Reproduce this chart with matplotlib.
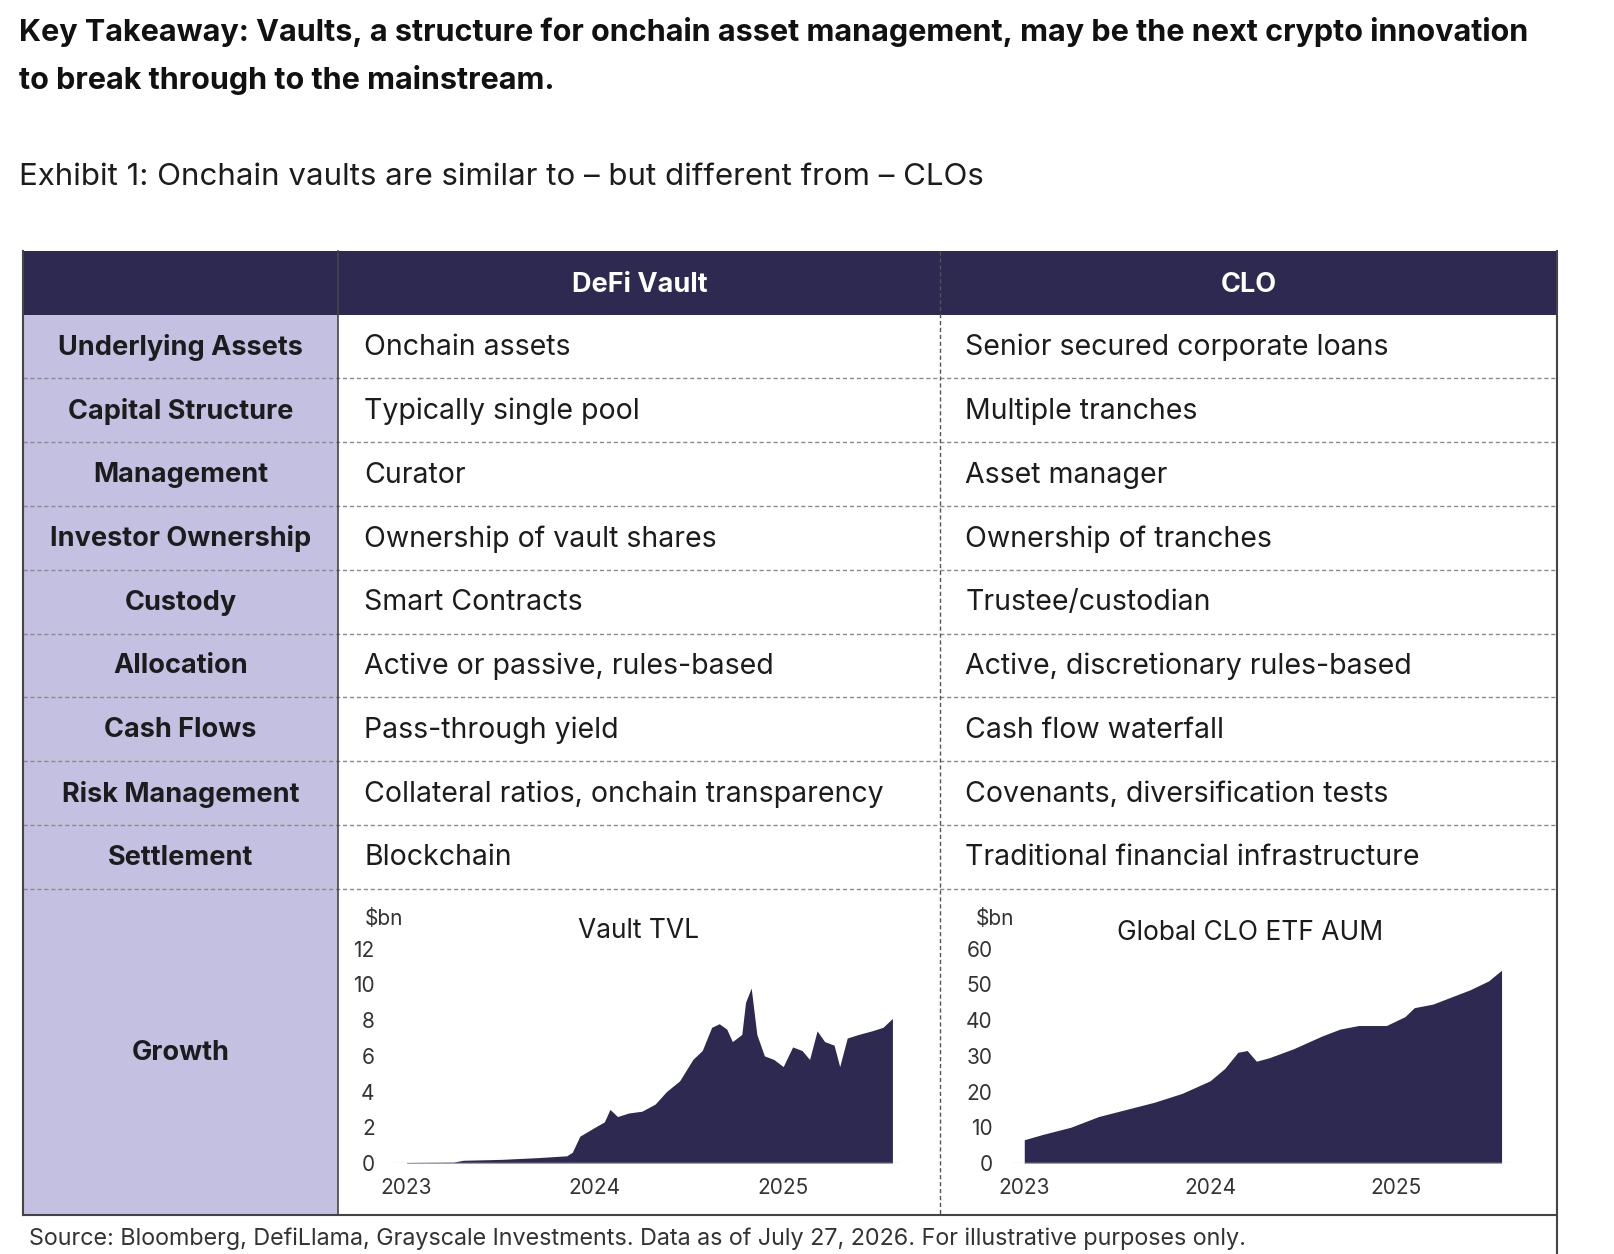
import matplotlib
matplotlib.use("Agg")
import matplotlib.pyplot as plt
from matplotlib.patches import Rectangle
from matplotlib.lines import Line2D

plt.rcParams['font.family'] = ['Inter', 'DejaVu Sans']

title_lines = ["Key Takeaway: Vaults, a structure for onchain asset management, may be the next crypto innovation",
               "to break through to the mainstream."]
exhibit = "Exhibit 1: Onchain vaults are similar to \u2013 but different from \u2013 CLOs"
headers = ["DeFi Vault", "CLO"]
row_labels = ["Underlying Assets", "Capital Structure", "Management", "Investor Ownership", "Custody",
              "Allocation", "Cash Flows", "Risk Management", "Settlement"]
defi_col = ["Onchain assets", "Typically single pool", "Curator", "Ownership of vault shares",
            "Smart Contracts", "Active or passive, rules-based", "Pass-through yield",
            "Collateral ratios, onchain transparency", "Blockchain"]
clo_col = ["Senior secured corporate loans", "Multiple tranches", "Asset manager", "Ownership of tranches",
           "Trustee/custodian", "Active, discretionary rules-based", "Cash flow waterfall",
           "Covenants, diversification tests", "Traditional financial infrastructure"]
source = "Source: Bloomberg, DefiLlama, Grayscale Investments. Data as of July 27, 2026. For illustrative purposes only."

vault_t = [2023.0, 2023.25, 2023.3, 2023.5, 2023.7, 2023.85, 2023.88, 2023.92, 2024.0, 2024.05, 2024.08,
           2024.12, 2024.18, 2024.25, 2024.32, 2024.38, 2024.45, 2024.52, 2024.57, 2024.62, 2024.66, 2024.7,
           2024.73, 2024.78, 2024.8, 2024.83, 2024.86, 2024.9, 2024.95, 2025.0, 2025.05, 2025.1, 2025.14,
           2025.18, 2025.22, 2025.27, 2025.3, 2025.34, 2025.4, 2025.47, 2025.53, 2025.58]
vault_v = [0.03, 0.05, 0.15, 0.2, 0.3, 0.4, 0.6, 1.5, 2.0, 2.3, 3.0, 2.6, 2.8, 2.9, 3.3, 4.0, 4.6, 5.8, 6.3,
           7.6, 7.8, 7.5, 6.8, 7.2, 9.0, 9.8, 7.2, 6.0, 5.8, 5.4, 6.5, 6.3, 5.8, 7.4, 6.8, 6.6, 5.4, 7.0,
           7.2, 7.4, 7.6, 8.1]
clo_t = [2023.0, 2023.1, 2023.25, 2023.4, 2023.55, 2023.7, 2023.85, 2024.0, 2024.08, 2024.15, 2024.2,
         2024.25, 2024.32, 2024.45, 2024.6, 2024.7, 2024.8, 2024.95, 2025.05, 2025.1, 2025.2, 2025.3,
         2025.4, 2025.5, 2025.57]
clo_v = [6.5, 8.0, 10.0, 13.0, 15.0, 17.0, 19.5, 23.0, 26.5, 31.0, 31.5, 28.5, 29.5, 32.0, 35.5, 37.5, 38.5,
         38.5, 41.0, 43.5, 44.5, 46.5, 48.5, 51.0, 54.0]

W, H = 1560.0, 1212.0
fig = plt.figure(figsize=(16.14, 12.54), dpi=100)
def fx(x): return x / W
def fy(y): return 1 - y / H
def txt(x, y, s, **kw):
    fig.text(fx(x), fy(y), s, **kw)

NAVY = "#2d2950"
LAV = "#c4c0e2"
TXT = "#1c1c1c"

for i, line in enumerate(title_lines):
    txt(18, 31 + 46 * i, line, fontsize=22, fontweight='bold', va='center', color='#111111')
txt(18, 171, exhibit, fontsize=22.5, va='center', color=TXT)

L, C1, C2, R = 22, 327, 909, 1505
top, hb = 243, 304
rh = (859 - 304) / 9
gb = 1174

def rect(x0, y0, x1, y1, color):
    fig.add_artist(Rectangle((fx(x0), fy(y1)), fx(x1) - fx(x0), fy(y0) - fy(y1),
                             facecolor=color, edgecolor='none', transform=fig.transFigure))
def line(x0, y0, x1, y1, **kw):
    fig.add_artist(Line2D([fx(x0), fx(x1)], [fy(y0), fy(y1)], transform=fig.transFigure, **kw))

rect(L, top, R, hb, NAVY)
rect(L, hb, C1, gb, LAV)
txt((C1 + C2) / 2, 275, headers[0], fontsize=19.5, fontweight='bold', color='white', ha='center', va='center')
txt((C2 + R) / 2, 275, headers[1], fontsize=19.5, fontweight='bold', color='white', ha='center', va='center')

for i in range(9):
    yc = hb + rh * (i + 0.5) + 1
    txt((L + C1) / 2, yc, row_labels[i], fontsize=19.5, fontweight='bold', color=TXT, ha='center', va='center')
    txt(352, yc, defi_col[i], fontsize=20.5, color=TXT, va='center')
    txt(933, yc, clo_col[i], fontsize=20.5, color=TXT, va='center')
    yb = hb + rh * (i + 1)
    line(L, yb, R, yb, color='#8a8a8a', lw=1.0, ls=(0, (3, 2)))
txt((L + C1) / 2, 1018, "Growth", fontsize=19.5, fontweight='bold', color=TXT, ha='center', va='center')

line(C2, top, C2, gb, color='#555555', lw=1.0, ls=(0, (3, 2)))
line(C1, top, C1, gb, color='#444444', lw=1.2)
line(L, top, L, gb, color='#444444', lw=1.5)
line(R, top, R, 1215, color='#444444', lw=1.5)
line(L, gb, R, gb, color='#444444', lw=1.5)
line(L, 1215, R, 1215, color='#888888', lw=1.0)
txt(28, 1197, source, fontsize=16.8, color='#333333', va='center')

def chart(x2023, ppy, tmax, y0px, ytop_px, vmax, t, v, yt, title, tx, ty, lx):
    ax_l, ax_r = x2023 - 12, x2023 + ppy * (tmax - 2023) + 8
    ax_b, ax_t = y0px, ytop_px - 10
    ax = fig.add_axes([fx(ax_l), fy(ax_b), fx(ax_r) - fx(ax_l), fy(ax_t) - fy(ax_b)])
    ax.set_xlim(2023 - 12 / ppy, tmax + 8 / ppy)
    ppu = (y0px - ytop_px) / vmax
    ax.set_ylim(0, (y0px - ax_t) / ppu)
    ax.fill_between(t, 0, v, color=NAVY, lw=0)
    ax.patch.set_alpha(0)
    for s in ax.spines.values():
        s.set_visible(False)
    ax.set_xticks([2023, 2024, 2025])
    ax.set_xticklabels(['2023', '2024', '2025'], fontsize=15, color='#333333')
    ax.set_yticks(yt)
    ax.set_yticklabels([str(y) for y in yt], fontsize=15, color='#333333')
    ax.tick_params(axis='both', length=0, pad=11)
    ax.tick_params(axis='y', pad=14)
    ax.axhline(0, color='#dddddd', lw=1)
    txt(tx, ty, title, fontsize=19, color=TXT, ha='center', va='center')
    txt(lx, 888, "$bn", fontsize=15, color='#333333', ha='center', va='center')

chart(393, 182, 2025.58, 1124, 917, 12, vault_t, vault_v, [0, 2, 4, 6, 8, 10, 12], "Vault TVL", 617, 900, 371)
chart(990, 179.5, 2025.57, 1124, 917, 60, clo_t, clo_v, [0, 10, 20, 30, 40, 50, 60], "Global CLO ETF AUM", 1208, 902, 962)

fig.savefig("out.png", dpi=100, facecolor='white')
